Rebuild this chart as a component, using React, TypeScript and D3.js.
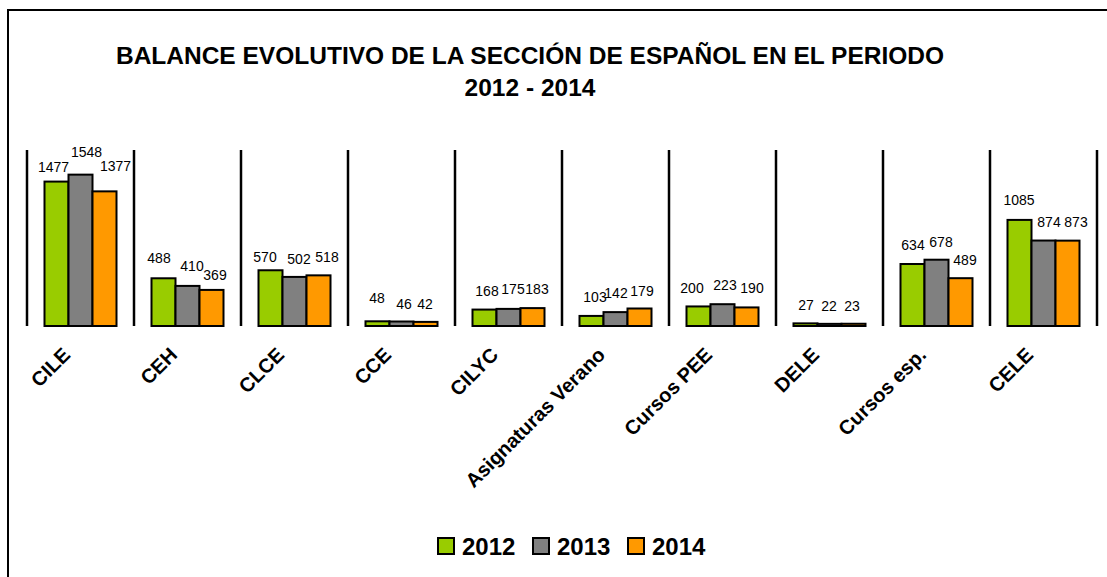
import React from "react";
import * as d3 from "d3";

const categories = ["CILE", "CEH", "CLCE", "CCE", "CILYC", "Asignaturas Verano", "Cursos PEE", "DELE", "Cursos esp.", "CELE"];
const series = ["2012", "2013", "2014"];
const values2012 = [1477, 488, 570, 48, 168, 103, 200, 27, 634, 1085];
const values2013 = [1548, 410, 502, 46, 175, 142, 223, 22, 678, 874];
const values2014 = [1377, 369, 518, 42, 183, 179, 190, 23, 489, 873];
const seriesValues = [values2012, values2013, values2014];
const colors = ["#99CC00", "#808080", "#FF9900"];
const titleLines = ["BALANCE EVOLUTIVO DE LA SECCIÓN DE ESPAÑOL EN EL PERIODO", "2012 - 2014"];

// label nudges (dx, dy relative to bar centre / bar top), per category, per series
const labelNudge: [number, number][][] = [
  [[-3, -10], [6, -18], [11, -20]],
  [[-4.5, -15], [4.5, -15], [3.5, -10]],
  [[-5.5, -8], [4.5, -13], [8.5, -13]],
  [[-0.5, -18], [2.5, -12.5], [-0.5, -13]],
  [[2.5, -13.6], [4.5, -15], [4.5, -14]],
  [[3.5, -14], [0.5, -14], [2.5, -12.5]],
  [[-6.5, -13], [2.5, -14], [5.5, -14]],
  [[0.5, -13], [-0.5, -13], [-1.5, -13]],
  [[0.5, -14], [4.5, -13], [4.5, -13]],
  [[-0.5, -15], [5.5, -13.5], [8.5, -13.5]],
];

const FONT = "'Liberation Sans', Arial, sans-serif";

export default function App() {
  const W = 1107, H = 577;
  const x0 = 27, x1 = 1097, yTop = 150, yBase = 326;
  const x = d3.scaleBand<string>().domain(categories).range([x0, x1]).padding(0);
  const step = x.step();
  const xs = d3.scaleBand<string>().domain(series).range([17.5, step - 17.5]).padding(0);
  const y = d3.scaleLinear().domain([0, 1800]).range([yBase, yTop]);

  const seps = d3.range(categories.length + 1).map((i) => x0 + i * step);

  return (
    <svg width={W} height={H} style={{ position: "fixed", left: 0, top: 0, background: "#fff" }} fontFamily={FONT}>
      <rect x={0} y={0} width={W} height={H} fill="#fff" />
      <rect x={8} y={10} width={1120} height={600} fill="none" stroke="#000" strokeWidth={2} />
      <text x={530} y={64} textAnchor="middle" fontSize={24.5} fontWeight="bold">{titleLines[0]}</text>
      <text x={530} y={96} textAnchor="middle" fontSize={24.5} fontWeight="bold">{titleLines[1]}</text>

      {seps.map((sx, i) => (
        <line key={"s" + i} x1={sx} x2={sx} y1={yTop} y2={yBase} stroke="#000" strokeWidth={2.5} />
      ))}

      {categories.map((c, ci) => (
        <g key={c}>
          {series.map((s, si) => {
            const v = seriesValues[si][ci];
            const bx = (x(c) as number) + (xs(s) as number);
            const bw = xs.bandwidth();
            const top = y(v);
            return (
              <rect key={s} x={bx} y={top} width={bw} height={Math.max(yBase - top, 0.5)}
                fill={colors[si]} stroke="#000" strokeWidth={2} />
            );
          })}
          {series.map((s, si) => {
            const v = seriesValues[si][ci];
            const bx = (x(c) as number) + (xs(s) as number) + xs.bandwidth() / 2;
            const [dx, dy] = labelNudge[ci][si];
            return (
              <text key={"l" + s} x={bx + dx} y={y(v) + dy} textAnchor="middle" fontSize={14}>{v}</text>
            );
          })}
          <text
            transform={`translate(${(x(c) as number) + step / 2 - 9},${356}) rotate(-45)`}
            textAnchor="end" fontSize={20} fontWeight="bold">{c}</text>
        </g>
      ))}

      {series.map((s, si) => {
        const lx = 438 + si * 95;
        return (
          <g key={"leg" + s}>
            <rect x={lx} y={538} width={16} height={16} fill={colors[si]} stroke="#000" strokeWidth={2} />
            <text x={lx + 24} y={555} fontSize={24} fontWeight="bold">{s}</text>
          </g>
        );
      })}
    </svg>
  );
}
